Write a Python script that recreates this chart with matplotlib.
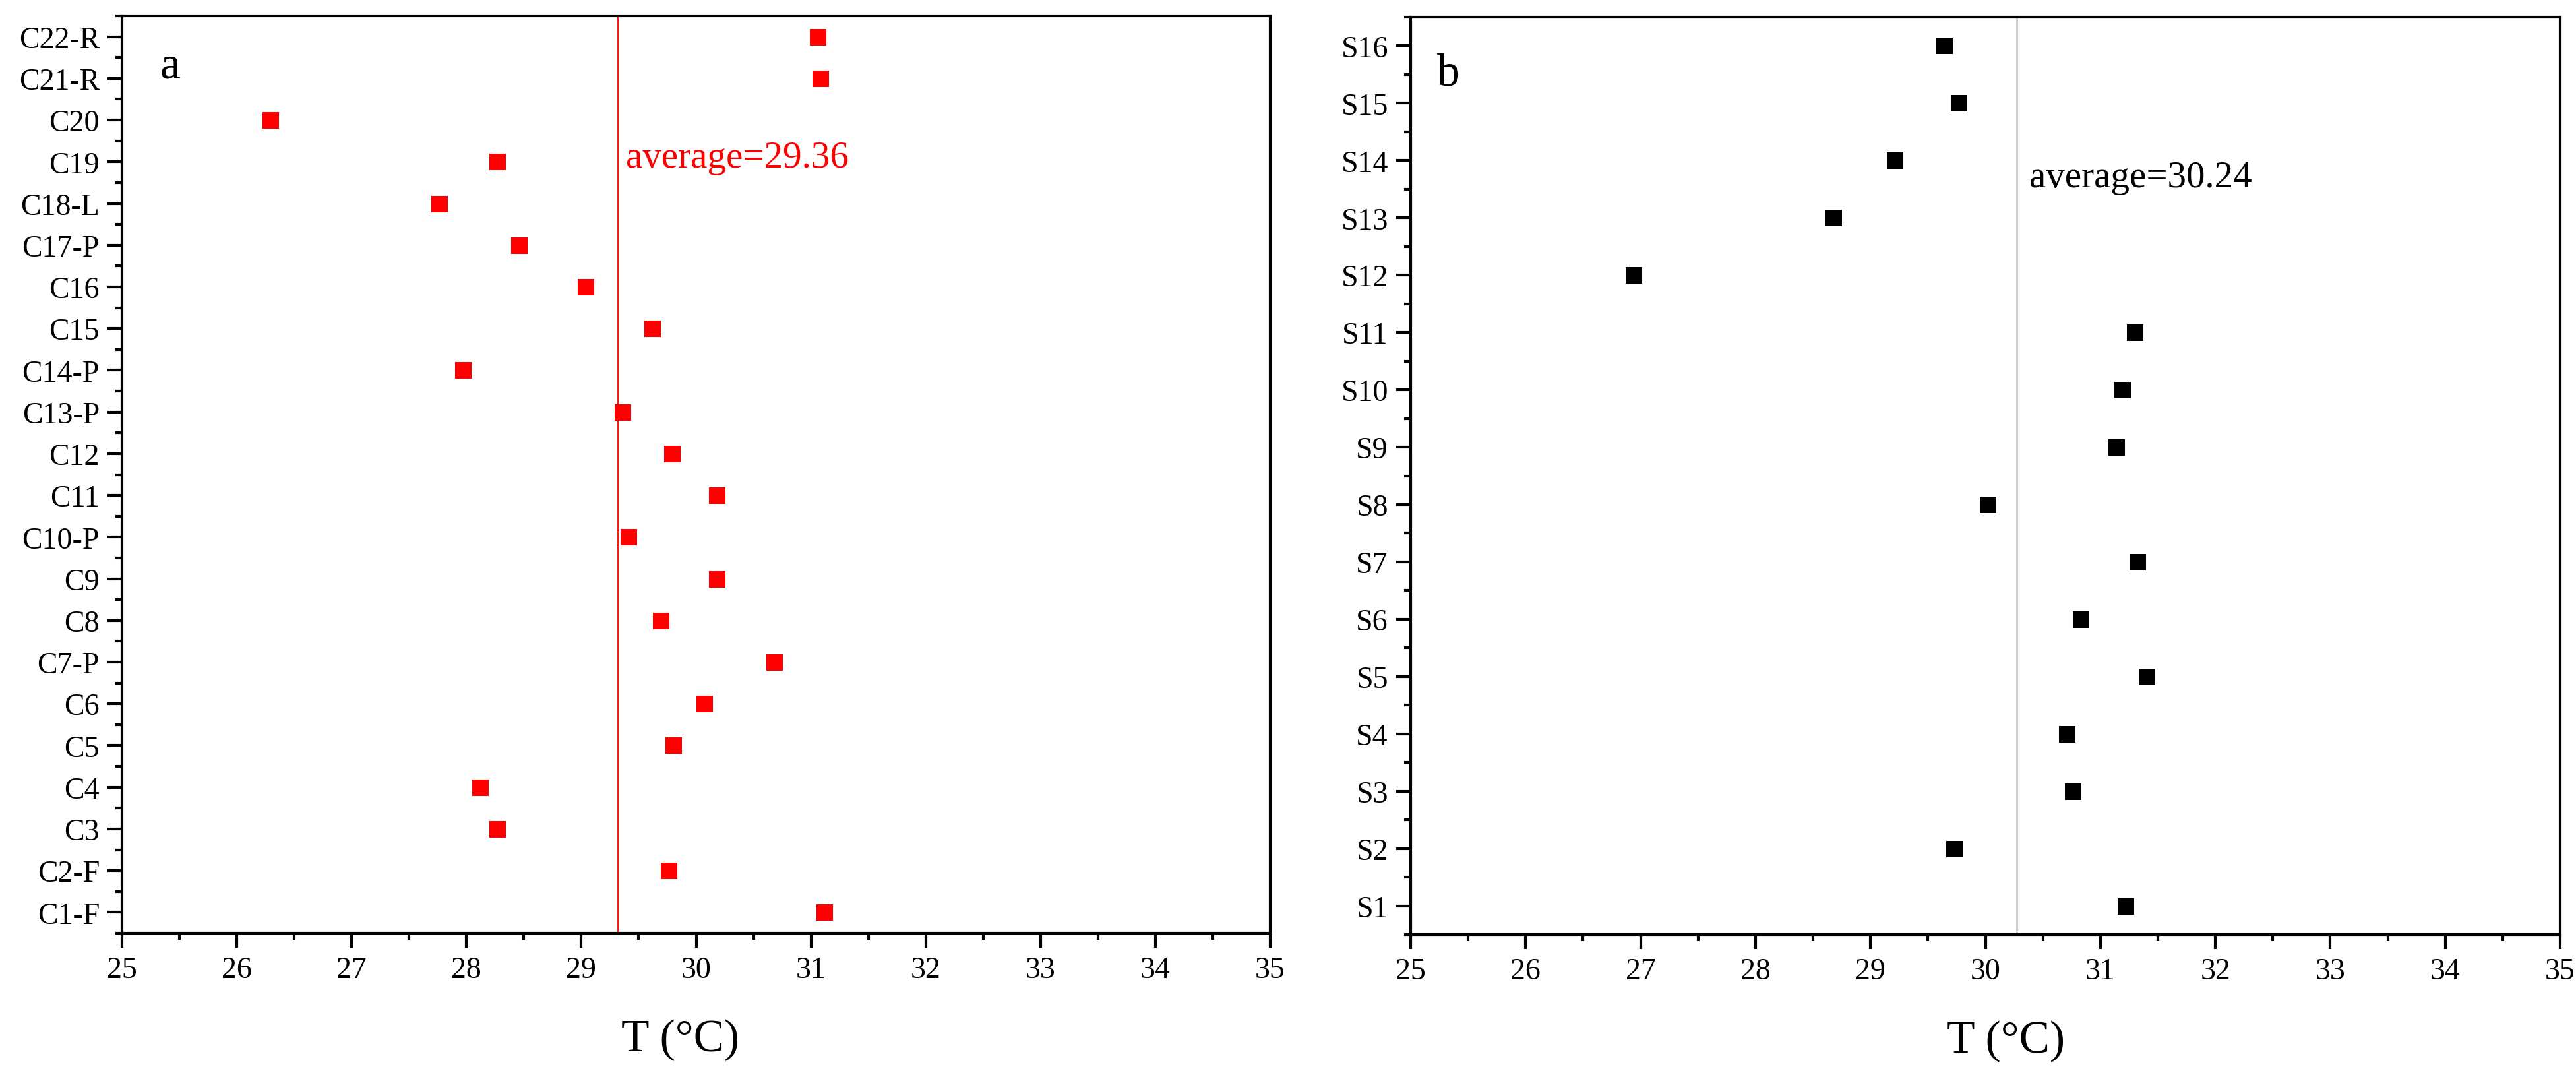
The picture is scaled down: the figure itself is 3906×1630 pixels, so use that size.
import matplotlib
matplotlib.use("Agg")
import matplotlib.pyplot as plt
from matplotlib.ticker import MultipleLocator
import numpy as np

plt.rcParams['font.family'] = ['Liberation Serif', 'DejaVu Serif']

# ---- data ----
cats_a = ["C1-F", "C2-F", "C3", "C4", "C5", "C6", "C7-P", "C8", "C9", "C10-P", "C11",
          "C12", "C13-P", "C14-P", "C15", "C16", "C17-P", "C18-L", "C19", "C20", "C21-R", "C22-R"]
temps_a = [31.12, 29.76, 28.27, 28.12, 29.80, 30.07, 30.68, 29.69, 30.18, 29.41, 30.18,
           29.79, 29.36, 27.97, 29.62, 29.04, 28.46, 27.76, 28.27, 26.29, 31.08, 31.06]
avg_a_label = "average=29.36"
avg_a_line = 29.32

cats_b = ["S1", "S2", "S3", "S4", "S5", "S6", "S7", "S8", "S9", "S10", "S11",
          "S12", "S13", "S14", "S15", "S16"]
temps_b = [31.22, 29.73, 30.76, 30.71, 31.40, 30.83, 31.32, 30.02, 31.14, 31.19, 31.30,
           26.94, 28.68, 29.21, 29.77, 29.64]
avg_b_label = "average=30.24"
avg_b_line = 30.27

xticks = list(range(25, 36))

W, H = 3906, 1631
fig = plt.figure(figsize=(W / 100, H / 100), dpi=100)

def px_axes(l, t, r, b):
    return fig.add_axes([l / W, 1 - b / H, (r - l) / W, (b - t) / H])

ax_a = px_axes(185, 25, 1926, 1416)
ax_b = px_axes(2139, 27, 3882, 1418)

def style(ax, cats, xlabel_x):
    ax.set_xlim(25, 35)
    ax.set_ylim(-0.5, len(cats) - 0.5)
    ax.set_xticks(xticks)
    ax.set_xticklabels([str(v) for v in xticks])
    ax.set_yticks(np.arange(len(cats)))
    ax.set_yticklabels(cats)
    ax.xaxis.set_minor_locator(MultipleLocator(0.5))
    ax.yaxis.set_minor_locator(MultipleLocator(0.5))
    ax.tick_params(axis='both', which='major', direction='out', length=15.5, width=3,
                   labelsize=33, pad=9, top=False, right=False)
    ax.tick_params(axis='both', which='minor', direction='out', length=7.5, width=3,
                   top=False, right=False)
    for s in ax.spines.values():
        s.set_linewidth(3)
    ax.set_xlabel("T (°C)", fontsize=50, va='center')
    ax.xaxis.set_label_coords(xlabel_x, -0.116)

# panel a
ax_a.plot(temps_a, np.arange(len(cats_a)), linestyle='none', marker='s',
          markersize=18, color='#ff0000', markeredgewidth=0)
ax_a.axvline(avg_a_line, color='#ff0000', linewidth=1.3)
style(ax_a, cats_a, 0.4865)
ax_a.text(29.39, 18.1, avg_a_label, color='#ff0000', fontsize=41, va='center', ha='left')
ax_a.text(0.033, 0.933, "a", transform=ax_a.transAxes, fontsize=50, va='baseline', ha='left')

# panel b
ax_b.plot(temps_b, np.arange(len(cats_b)), linestyle='none', marker='s',
          markersize=18, color='black', markeredgewidth=0)
ax_b.axvline(avg_b_line, color='black', linewidth=1.0)
style(ax_b, cats_b, 0.5175)
ax_b.text(30.38, 12.7, avg_b_label, color='black', fontsize=41, va='center', ha='left')
ax_b.text(0.023, 0.926, "b", transform=ax_b.transAxes, fontsize=50, va='baseline', ha='left')

fig.savefig("out.png", dpi=100)
